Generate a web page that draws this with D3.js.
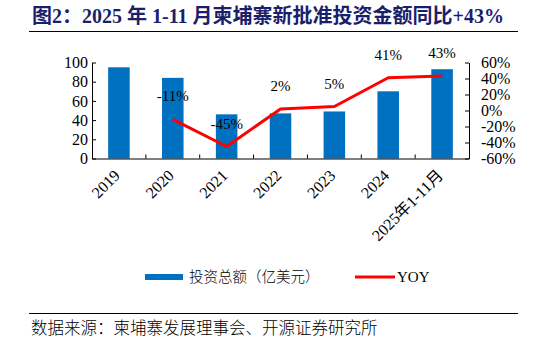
<!DOCTYPE html>
<html lang="zh">
<head>
<meta charset="UTF-8">
<title>2025年1-11月柬埔寨新批准投资金额</title>
<script src="https://d3js.org/d3.v7.min.js"></script>
<style>
  body { margin: 0; background: #fff; }
  svg { display: block; }
  .tick text { font-family: "Liberation Serif", "Times New Roman", serif; font-size: 16px; fill: #000; }
  .cjk { font-family: "Noto Sans CJK SC", sans-serif; }
</style>
</head>
<body>
<svg id="chart" width="546" height="343"></svg>
<script>
// data
const years = ["2019", "2020", "2021", "2022", "2023", "2024", "2025年1-11月"];
const invest = [95, 84, 46, 47, 49, 70, 93];          // 投资总额（亿美元）
const yoy = [null, -11, -45, 2, 5, 41, 43];            // YOY %
const leftTicks = [0, 20, 40, 60, 80, 100];
const rightTicks = [-60, -40, -20, 0, 20, 40, 60];

const svg = d3.select("#chart");
const plot = { left: 92, right: 469, top: 62.5, bottom: 158.5 };

// title
svg.append("text")
  .attr("x", 32).attr("y", 23)
  .attr("font-family", "'Liberation Serif', 'Noto Sans CJK SC', serif")
  .attr("font-weight", "bold").attr("font-size", 20)
  .attr("fill", "#1b1f6b")
  .text("图2：2025 年 1-11 月柬埔寨新批准投资金额同比+43%");
svg.append("line").attr("x1", 29).attr("x2", 518).attr("y1", 31.5).attr("y2", 31.5)
  .attr("stroke", "#000").attr("stroke-width", 1.2);

// scales
const x = d3.scaleBand().domain(years).range([plot.left, plot.right]).paddingInner(0).paddingOuter(0);
const yL = d3.scaleLinear().domain([0, 100]).range([plot.bottom, plot.top]);
const yR = d3.scaleLinear().domain([-60, 60]).range([plot.bottom, plot.top]);

// bars
const barW = x.bandwidth() * 0.4;
svg.selectAll(".bar").data(invest).enter().append("rect")
  .attr("class", "bar")
  .attr("x", (d, i) => x(years[i]) + (x.bandwidth() - barW) / 2)
  .attr("y", d => yL(d))
  .attr("width", barW)
  .attr("height", d => yL(0) - yL(d))
  .attr("fill", "#0070c0");

// left axis
const gl = svg.append("g").attr("transform", `translate(${plot.left},0)`)
  .call(d3.axisLeft(yL).tickValues(leftTicks).tickSizeInner(-4).tickSizeOuter(0).tickPadding(4));
gl.selectAll("line, path").attr("stroke", "#000");

// right axis
const gr = svg.append("g").attr("transform", `translate(${plot.right},0)`)
  .call(d3.axisRight(yR).tickValues(rightTicks).tickFormat(d => d + "%").tickSizeInner(-4).tickSizeOuter(0).tickPadding(12));
gr.selectAll("line, path").attr("stroke", "#000");

// bottom axis: ticks between categories, pointing up
const gb = svg.append("g").attr("transform", `translate(0,${plot.bottom})`)
  .call(d3.axisBottom(x).tickSize(0).tickPadding(0));
gb.select("path").attr("stroke", "#000");
gb.selectAll(".tick text")
  .attr("text-anchor", "end")
  .attr("dy", 0)
  .attr("transform", "translate(2,18) rotate(-45)")
  .attr("y", 0).attr("x", 0)
  .style("font-family", "'Liberation Serif', 'Noto Sans CJK SC', serif");
svg.append("g").selectAll("line").data(years.slice(1)).enter().append("line")
  .attr("x1", d => x(d)).attr("x2", d => x(d))
  .attr("y1", plot.bottom).attr("y2", plot.bottom - 4)
  .attr("stroke", "#000");

// YOY line
const pts = yoy.map((v, i) => ({ k: years[i], v })).filter(p => p.v !== null);
const line = d3.line().x(p => x(p.k) + x.bandwidth() / 2).y(p => yR(p.v));
svg.append("path").datum(pts).attr("d", line)
  .attr("fill", "none").attr("stroke", "#ff0000").attr("stroke-width", 3)
  .attr("stroke-linejoin", "round");

svg.selectAll(".lbl").data(pts).enter().append("text")
  .attr("class", "lbl")
  .attr("x", p => x(p.k) + x.bandwidth() / 2)
  .attr("y", p => yR(p.v) - 18)
  .attr("text-anchor", "middle")
  .attr("font-family", "'Liberation Serif', serif").attr("font-size", 15)
  .text(p => p.v + "%");

// legend
const lg = svg.append("g");
lg.append("rect").attr("x", 145).attr("y", 274).attr("width", 38).attr("height", 6).attr("fill", "#0070c0");
lg.append("text").attr("class", "cjk").attr("x", 189).attr("y", 282)
  .attr("font-size", 14.5).attr("font-weight", 300).text("投资总额（亿美元）");
lg.append("line").attr("x1", 355).attr("x2", 395).attr("y1", 277).attr("y2", 277)
  .attr("stroke", "#ff0000").attr("stroke-width", 3);
lg.append("text").attr("x", 397).attr("y", 282)
  .attr("font-family", "'Liberation Serif', serif").attr("font-size", 15).text("YOY");

// footer
svg.append("line").attr("x1", 29).attr("x2", 518).attr("y1", 313.5).attr("y2", 313.5)
  .attr("stroke", "#000").attr("stroke-width", 1);
svg.append("text").attr("class", "cjk").attr("x", 31).attr("y", 334)
  .attr("font-size", 16.5).attr("font-weight", 300)
  .text("数据来源：柬埔寨发展理事会、开源证券研究所");
</script>
</body>
</html>
